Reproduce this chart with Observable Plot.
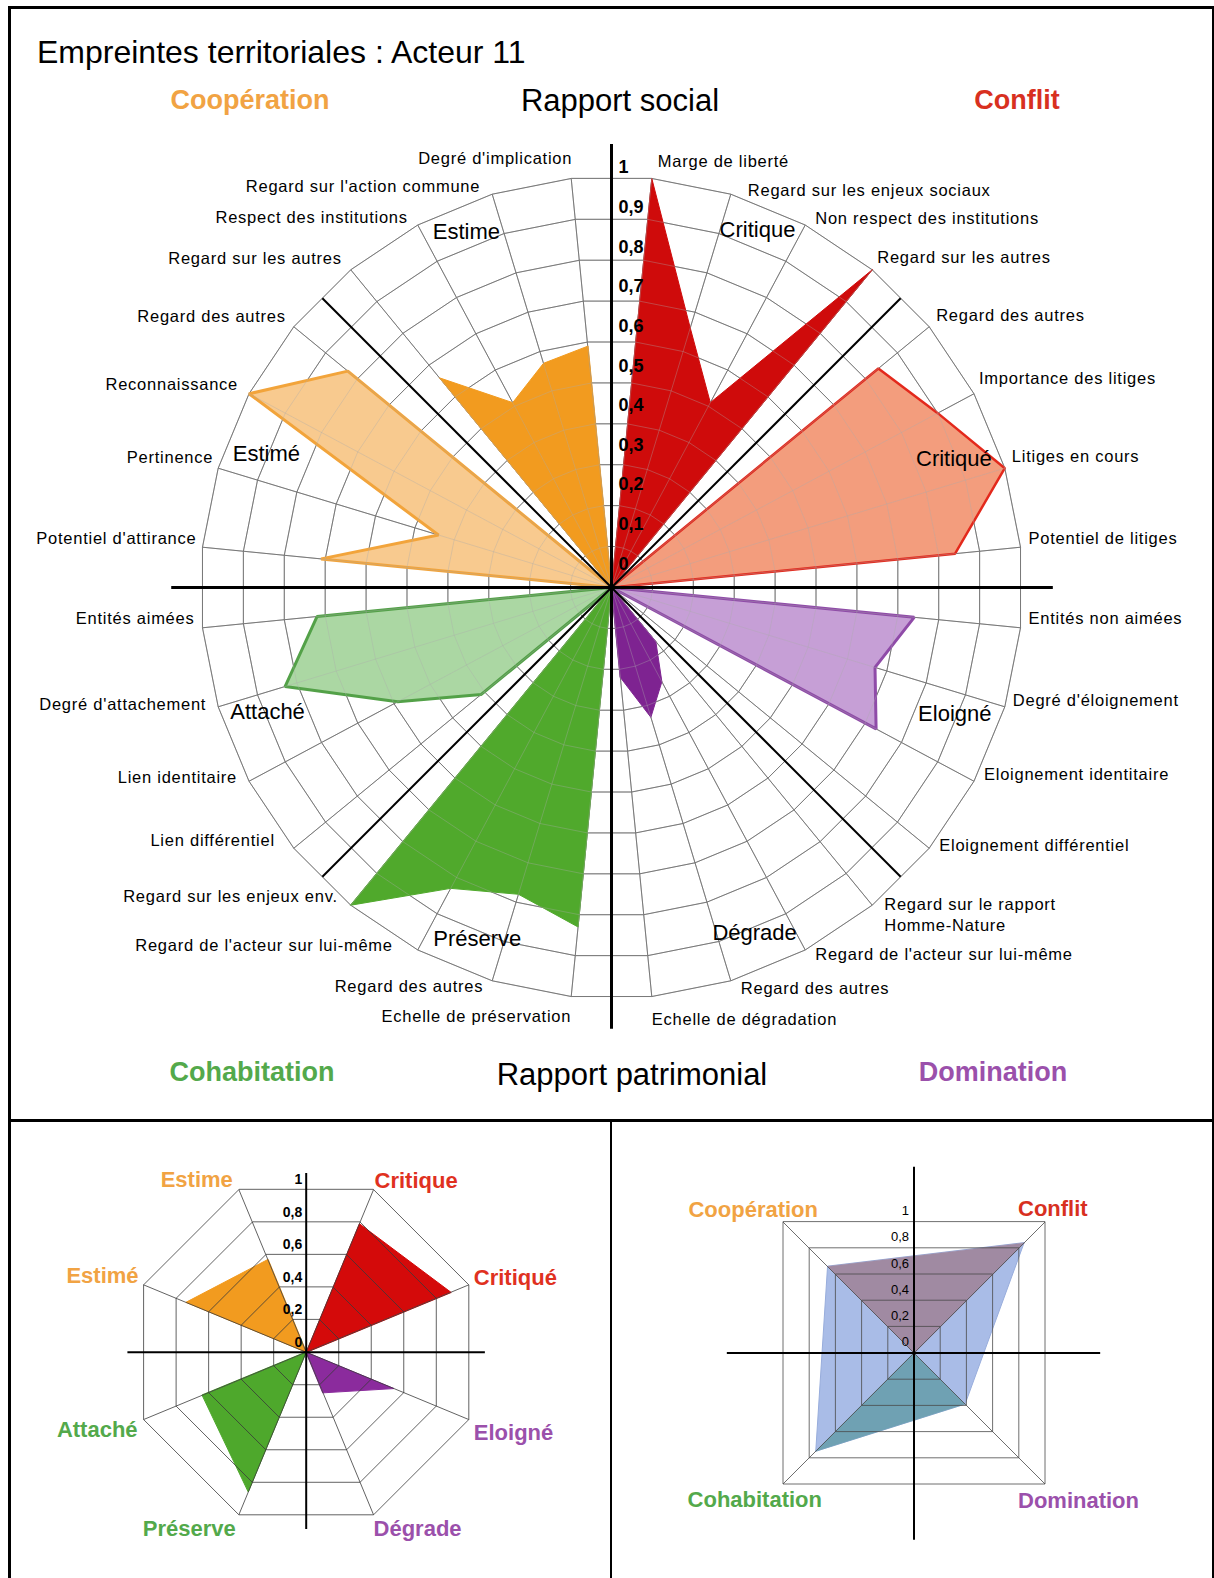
<!DOCTYPE html>
<html lang="fr"><head><meta charset="utf-8">
<script src="https://cdn.jsdelivr.net/npm/d3@7"></script>
<script src="https://cdn.jsdelivr.net/npm/@observablehq/plot@0.6"></script>
<style>
html,body{margin:0;padding:0;background:#fff;}
#page{position:relative;width:1214px;height:1578px;overflow:hidden;background:#fff;font-family:"Liberation Sans",Arial,Helvetica,sans-serif;}
#page svg{position:absolute;background:transparent !important;}
.lbl{position:absolute;white-space:nowrap;line-height:1;}
.rule{position:absolute;background:#000;z-index:5;}
</style></head><body><div id="page"></div>
<script>
// ---------------- DATA ----------------
const chartTitle = "Empreintes territoriales : Acteur 11";
const quadrantTitles = ["Coopération", "Conflit", "Cohabitation", "Domination"];
const relationTitles = ["Rapport social", "Rapport patrimonial"];

// sections, clockwise from north
const sectionNames = ["Critique", "Critiqué", "Eloigné", "Dégrade", "Préserve", "Attaché", "Estimé", "Estime"];

// 32 criteria, clockwise from north (4 per section)
const axisLabels = [
  "Marge de liberté", "Regard sur les enjeux sociaux", "Non respect des institutions", "Regard sur les autres",
  "Regard des autres", "Importance des litiges", "Litiges en cours", "Potentiel de litiges",
  "Entités non aimées", "Degré d'éloignement", "Eloignement identitaire", "Eloignement différentiel",
  "Regard sur le rapport\nHomme-Nature", "Regard de l'acteur sur lui-même", "Regard des autres", "Echelle de dégradation",
  "Echelle de préservation", "Regard des autres", "Regard de l'acteur sur lui-même", "Regard sur les enjeux env.",
  "Lien différentiel", "Lien identitaire", "Degré d'attachement", "Entités aimées",
  "Potentiel d'attirance", "Pertinence", "Reconnaissance", "Regard des autres",
  "Regard sur les autres", "Respect des institutions", "Regard sur l'action commune", "Degré d'implication"
];
const axisValues = [
  1.00, 0.66, 0.51, 1.00,
  0.84, 0.90, 1.00, 0.84,
  0.74, 0.67, 0.73, 0.00,
  0.17, 0.26, 0.33, 0.22,
  0.83, 0.78, 0.83, 1.00,
  0.41, 0.59, 0.83, 0.72,
  0.71, 0.44, 1.00, 0.83,
  0.66, 0.51, 0.57, 0.59
];
const mainTickValues = [0, 0.1, 0.2, 0.3, 0.4, 0.5, 0.6, 0.7, 0.8, 0.9, 1];
const mainTickLabels = ["0", "0,1", "0,2", "0,3", "0,4", "0,5", "0,6", "0,7", "0,8", "0,9", "1"];

// summary by section (octagon), same order as sectionNames
const summaryLabels = ["Critique", "Critiqué", "Eloigné", "Dégrade", "Préserve", "Attaché", "Estimé", "Estime"];
const summaryValues = [0.79, 0.89, 0.54, 0.25, 0.86, 0.64, 0.74, 0.57];

// summary by relation (square), clockwise from north-east
const rapportLabels = ["Conflit", "Domination", "Cohabitation", "Coopération"];
const rapportValues = [0.84, 0.39, 0.75, 0.66];

const smallTickValues = [0, 0.2, 0.4, 0.6, 0.8, 1];
const smallTickLabels = ["0", "0,2", "0,4", "0,6", "0,8", "1"];

// ---------------- STYLES / LAYOUT ----------------
const FONT = "Liberation Sans, Arial, Helvetica, sans-serif";
const deg = Math.PI / 180;
const sectionFill = {"Critique":"#cf0b0b","Critiqué":"#f39d7d","Eloigné":"#c69fd6","Dégrade":"#7e2391","Préserve":"#50a92c","Attaché":"#abd7a3","Estimé":"#f8ca8f","Estime":"#f29b1f"};
const sectionStroke = {"Critique":"#cf0b0b","Critiqué":"#e3291c","Eloigné":"#8f4ba8","Dégrade":"#7e2391","Préserve":"#50a92c","Attaché":"#53a148","Estimé":"#f2a43b","Estime":"#f29b1f"};
const sectionStrokeW = {"Critique":1,"Critiqué":2.5,"Eloigné":3,"Dégrade":1,"Préserve":1,"Attaché":3,"Estimé":3,"Estime":1};
const summaryFill = ["#d40a0a", "#8b2b9d", "#4ea82c", "#f29b1f"]; // conflit, domination, cohabitation, coopération
const labelColor = {"Critique":"#e0311f","Critiqué":"#e0311f","Eloigné":"#9b50ab","Dégrade":"#9b50ab","Préserve":"#53a94b","Attaché":"#53a94b","Estimé":"#f1a343","Estime":"#f1a343","Conflit":"#d8301f","Domination":"#9b50ab","Cohabitation":"#53a94b","Coopération":"#f1a343"};
// label offsets in px (dx, dy) relative to the axis tip
const labelNudge = [
  [6,-18],[17,-5],[10,-7.5],[5,-14],[7,-12],[5,-16],[7,-13],[8,-10],
  [8,-10.5],[8,-7.5],[10,-7.5],[10,-3.5],[12,9],[10,3.5],[10,6.5],[0,21.5],
  [0,20.5],[-9,5.5],[-25,-4.5],[-13,-8.5],[-19,-7.5],[-12,-3.5],[-12,-2.5],[-8,-9.5],
  [-6,-8],[-5,-10.5],[-11,-9.5],[-8,-10],[-9,-11],[-10,-7.5],[-12,-7.5],[1,-20]
];
const sectionLabelPos = [[22.2,0.94],[69.4,0.89],[110.2,0.89],[157.5,0.91],[200.9,0.915],[250.1,0.89],[291.1,0.90],[337.8,0.934]];
const AXIS_LABEL_SIZE = 16.5;

const page = document.getElementById("page");

// ---------------- MAIN RADAR ----------------
{
  const W = 1214, H = 1120, CX = 611, CY = 587, R = 411;
  const axes = axisLabels.map((label, i) => {
    const a = (5.625 + 11.25 * i) * deg;
    return {i, label, value: axisValues[i], sx: Math.sin(a), sy: Math.cos(a), section: sectionNames[Math.floor(i / 4)]};
  });
  const rings = [];
  for (const v of mainTickValues.slice(1)) for (const d of axes) rings.push({v, x: v * d.sx, y: v * d.sy});
  const polys = sectionNames.map((name, s) => [{x: 0, y: 0}, ...axes.slice(4 * s, 4 * s + 4).map(d => ({x: d.value * d.sx, y: d.value * d.sy}))]);
  const labels = axes.map(d => ({label: d.label, i: d.i, x: d.sx + labelNudge[d.i][0] / R, y: d.sy - labelNudge[d.i][1] / R}));
  const secLabels = sectionNames.map((name, s) => ({name, x: sectionLabelPos[s][1] * Math.sin(sectionLabelPos[s][0] * deg), y: sectionLabelPos[s][1] * Math.cos(sectionLabelPos[s][0] * deg)}));
  const diag = [45, 135, 225, 315].map(a => ({x: 0.995 * Math.sin(a * deg), y: 0.995 * Math.cos(a * deg)}));
  const ticks = mainTickValues.map((v, k) => ({v, label: mainTickLabels[k]}));
  const gridMarks = (stroke, op) => [
    Plot.line(rings, {x: "x", y: "y", z: "v", curve: "linear-closed", stroke, strokeOpacity: op, strokeWidth: 0.8, fill: "none"}),
    Plot.link(axes, {x1: 0, y1: 0, x2: "sx", y2: "sy", stroke, strokeOpacity: op, strokeWidth: 0.8})
  ];
  const svg = Plot.plot({
    width: W, height: H, margin: 0,
    x: {domain: [-CX / R, (W - CX) / R], axis: null},
    y: {domain: [-(H - CY) / R, CY / R], axis: null},
    style: {fontFamily: FONT, background: "transparent", color: "black"},
    marks: [
      ...gridMarks("#333333", 1),
      ...sectionNames.map((name, s) => Plot.line(polys[s], {x: "x", y: "y", curve: "linear-closed", fill: sectionFill[name], stroke: sectionStroke[name], strokeWidth: sectionStrokeW[name], strokeLinejoin: "miter"})),
      ...gridMarks("#aaaaaa", 0.45),
      Plot.link(diag, {x1: 0, y1: 0, x2: "x", y2: "y", stroke: "black", strokeWidth: 2}),
      Plot.ruleY([0], {x1: -1.07, x2: 1.075, stroke: "black", strokeWidth: 3}),
      Plot.ruleX([0], {y1: -1.075, y2: 1.078, stroke: "black", strokeWidth: 3}),
      Plot.text(ticks, {x: 0, y: d => (CY - (167 + (1 - d.v) * 396.5)) / R, text: "label", dx: 7, textAnchor: "start", fontWeight: "bold", fontSize: 18, fill: "black"}),
      Plot.text(labels.filter(d => d.i < 16), {x: "x", y: "y", text: "label", textAnchor: "start", fontSize: AXIS_LABEL_SIZE, lineHeight: 1.27, fill: "black", ariaLabel: "axis-labels"}),
      Plot.text(labels.filter(d => d.i >= 16), {x: "x", y: "y", text: "label", textAnchor: "end", fontSize: AXIS_LABEL_SIZE, fill: "black", ariaLabel: "axis-labels"}),
      Plot.text(secLabels, {x: "x", y: "y", text: "name", fontSize: 22, fill: "black"})
    ]
  });
  svg.style.left = "0px"; svg.style.top = "0px";
  svg.querySelectorAll('g[aria-label="axis-labels"], g[font-size="' + AXIS_LABEL_SIZE + '"]').forEach(g => { g.style.letterSpacing = "0.75px"; });
  page.appendChild(svg);
}

// ---------------- OCTAGON SUMMARY ----------------
{
  const W = 610, H = 458, CX = 305.7, CY = 231.7, R = 176;
  const axes = summaryLabels.map((name, i) => {
    const a = (22.5 + 45 * i) * deg;
    return {i, name, value: summaryValues[i], sx: Math.sin(a), sy: Math.cos(a)};
  });
  const rings = [];
  for (const v of smallTickValues.slice(1)) for (const d of axes) rings.push({v, x: v * d.sx, y: v * d.sy});
  const tris = [0, 1, 2, 3].map(q => {
    const i1 = (2 * q) % 8, i2 = (2 * q + 1) % 8;
    return [{x: 0, y: 0}, {x: axes[i1].value * axes[i1].sx, y: axes[i1].value * axes[i1].sy}, {x: axes[i2].value * axes[i2].sx, y: axes[i2].value * axes[i2].sy}];
  });
  const nudge = [[1, -9, "start"], [5, -7, "start"], [5, 13, "start"], [0, 14, "start"], [-3, 14, "end"], [-6, 10, "end"], [-5, -9, "end"], [-6, -10, "end"]];
  const lab = axes.map(d => ({name: d.name, anchor: nudge[d.i][2], x: d.sx + nudge[d.i][0] / R, y: d.sy - nudge[d.i][1] / R}));
  const ticks = smallTickValues.map((v, k) => ({v, label: smallTickLabels[k]}));
  const svg = Plot.plot({
    width: W, height: H, margin: 0,
    x: {domain: [-CX / R, (W - CX) / R], axis: null},
    y: {domain: [-(H - CY) / R, CY / R], axis: null},
    style: {fontFamily: FONT, background: "transparent", color: "black"},
    marks: [
      ...tris.map((t, q) => Plot.line(t, {x: "x", y: "y", curve: "linear-closed", fill: summaryFill[q], stroke: summaryFill[q], strokeWidth: 1})),
      Plot.line(rings, {x: "x", y: "y", z: "v", curve: "linear-closed", stroke: "#3a3a3a", strokeWidth: 0.8, fill: "none"}),
      Plot.link(axes, {x1: 0, y1: 0, x2: "sx", y2: "sy", stroke: "#3a3a3a", strokeWidth: 0.8}),
      Plot.ruleY([0], {x1: -1.013, x2: 1.018, stroke: "black", strokeWidth: 2}),
      Plot.ruleX([0], {y1: -1.007, y2: 1.015, stroke: "black", strokeWidth: 2}),
      Plot.text(ticks, {x: 0, y: d => d.v * Math.cos(22.5 * deg), text: "label", dx: -4, dy: -10, textAnchor: "end", fontWeight: "bold", fontSize: 14, fill: "black"}),
      Plot.text(lab.filter(d => d.anchor === "start"), {x: "x", y: "y", text: "name", textAnchor: "start", fontSize: 22, fontWeight: "bold", fill: d => labelColor[d.name]}),
      Plot.text(lab.filter(d => d.anchor === "end"), {x: "x", y: "y", text: "name", textAnchor: "end", fontSize: 22, fontWeight: "bold", fill: d => labelColor[d.name]})
    ]
  });
  svg.style.left = "0px"; svg.style.top = "1120px";
  page.appendChild(svg);
}

// ---------------- SQUARE SUMMARY ----------------
{
  const W = 604, H = 458, CX = 303.5, CY = 232.5, R = 131;
  const axes = rapportLabels.map((name, i) => {
    const a = (45 + 90 * i) * deg;
    return {i, name, value: rapportValues[i], sx: Math.SQRT2 * Math.sin(a), sy: Math.SQRT2 * Math.cos(a)};
  });
  const pt = i => ({x: axes[i].value * axes[i].sx, y: axes[i].value * axes[i].sy});
  const rings = [];
  for (const v of smallTickValues.slice(1)) for (const d of axes) rings.push({v, x: v * d.sx, y: v * d.sy});
  const total = [pt(0), pt(1), pt(2), pt(3)];
  const social = [{x: 0, y: 0}, pt(3), pt(0)];
  const patrimonial = [{x: 0, y: 0}, pt(1), pt(2)];
  const nudge = [[-27, -13, "start"], [-27, 17, "start"], [39, 16, "end"], [35, -12, "end"]];
  const lab = axes.map(d => ({name: d.name, anchor: nudge[d.i][2], x: d.sx + nudge[d.i][0] / R, y: d.sy - nudge[d.i][1] / R}));
  const ticks = smallTickValues.map((v, k) => ({v, label: smallTickLabels[k]}));
  const svg = Plot.plot({
    width: W, height: H, margin: 0,
    x: {domain: [-CX / R, (W - CX) / R], axis: null},
    y: {domain: [-(H - CY) / R, CY / R], axis: null},
    style: {fontFamily: FONT, background: "transparent", color: "black"},
    marks: [
      Plot.line(total, {x: "x", y: "y", curve: "linear-closed", fill: "#a9bce7", stroke: "#98addc", strokeWidth: 1}),
      Plot.line(social, {x: "x", y: "y", curve: "linear-closed", fill: "#a08aa2", stroke: "#a08aa2", strokeWidth: 0.5}),
      Plot.line(patrimonial, {x: "x", y: "y", curve: "linear-closed", fill: "#6fa1b3", stroke: "#6fa1b3", strokeWidth: 0.5}),
      Plot.line(rings, {x: "x", y: "y", z: "v", curve: "linear-closed", stroke: "#4a4a4a", strokeWidth: 0.8, fill: "none"}),
      Plot.link(axes, {x1: 0, y1: 0, x2: "sx", y2: "sy", stroke: "#4a4a4a", strokeWidth: 0.8}),
      Plot.ruleY([0], {x1: -1.425, x2: 1.425, stroke: "black", strokeWidth: 2}),
      Plot.ruleX([0], {y1: -1.43, y2: 1.418, stroke: "black", strokeWidth: 2}),
      Plot.text(ticks, {x: 0, y: "v", text: "label", dx: -5, dy: -11, textAnchor: "end", fontSize: 13, fill: "black"}),
      Plot.text(lab.filter(d => d.anchor === "start"), {x: "x", y: "y", text: "name", textAnchor: "start", fontSize: 22, fontWeight: "bold", fill: d => labelColor[d.name]}),
      Plot.text(lab.filter(d => d.anchor === "end"), {x: "x", y: "y", text: "name", textAnchor: "end", fontSize: 22, fontWeight: "bold", fill: d => labelColor[d.name]})
    ]
  });
  svg.style.left = "610px"; svg.style.top = "1120px";
  page.appendChild(svg);
}

// ---------------- HTML TITLES & FRAME ----------------
function addText(txt, x, cy, size, color, weight, anchor) {
  const el = document.createElement("div");
  el.className = "lbl";
  el.textContent = txt;
  el.style.fontSize = size + "px";
  el.style.color = color;
  el.style.fontWeight = weight;
  el.style.left = x + "px";
  el.style.top = (cy - 0.49 * size) + "px";
  if (anchor === "middle") el.style.transform = "translateX(-50%)";
  page.appendChild(el);
}
addText(chartTitle, 37, 52, 32, "#000", "normal", "start");
addText(quadrantTitles[0], 250, 100, 27, labelColor["Coopération"], "bold", "middle");
addText(relationTitles[0], 620, 100, 31, "#000", "normal", "middle");
addText(quadrantTitles[1], 1017, 100, 27, labelColor["Conflit"], "bold", "middle");
addText(quadrantTitles[2], 252, 1072, 27, labelColor["Cohabitation"], "bold", "middle");
addText(relationTitles[1], 632, 1074, 31, "#000", "normal", "middle");
addText(quadrantTitles[3], 993, 1072, 27, labelColor["Domination"], "bold", "middle");

function addRule(l, t, w, h) {
  const el = document.createElement("div");
  el.className = "rule";
  Object.assign(el.style, {left: l + "px", top: t + "px", width: w + "px", height: h + "px"});
  page.appendChild(el);
}
addRule(8, 6, 1206, 2.5);     // top frame
addRule(8, 6, 2.5, 1572);     // left frame
addRule(1211.5, 6, 2.5, 1572);// right frame
addRule(8, 1119, 1206, 2.5);  // horizontal divider
addRule(609.5, 1119, 2, 459); // vertical divider
</script></body></html>
